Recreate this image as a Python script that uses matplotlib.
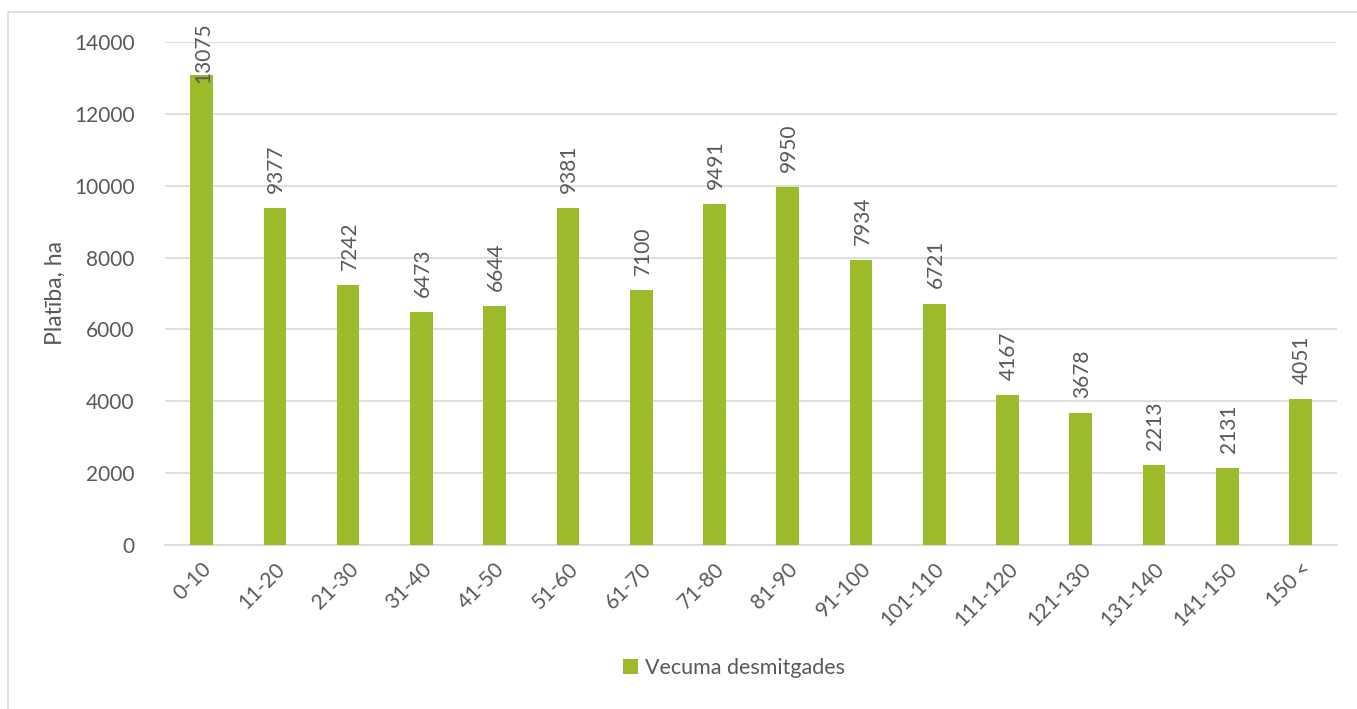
import matplotlib.pyplot as plt
from matplotlib.patches import Rectangle

age_groups = ['0-10', '11-20', '21-30', '31-40', '41-50', '51-60', '61-70', '71-80',
              '81-90', '91-100', '101-110', '111-120', '121-130', '131-140', '141-150', '150 <']
area_ha = [13075, 9377, 7242, 6473, 6644, 9381, 7100, 9491,
           9950, 7934, 6721, 4167, 3678, 2213, 2131, 4051]
series_name = 'Vecuma desmitgades'

bar_color = '#9BBB2A'
text_color = '#595959'
grid_color = '#D9D9D9'

plt.rcParams['font.family'] = ['Lato', 'DejaVu Sans']

fig = plt.figure(figsize=(13.57, 7.09), dpi=100)
ax = fig.add_axes([0.1216, 0.2313, 0.8637, 0.7095])

x = range(len(age_groups))
bars = ax.bar(x, area_ha, width=0.31, color=bar_color, label=series_name, zorder=3)

# labels sit above the bar, but the tallest one is pushed down to stay in the chart
for xi, v in zip(x, area_ha):
    ax.text(xi + 0.02, min(v + 420, 12850), str(v), rotation=90, ha='center', va='bottom',
            fontsize=15, color=text_color)

ax.set_xlim(-0.5, len(age_groups) - 0.5)
ax.set_ylim(0, 14000)
ax.set_yticks(range(0, 14001, 2000))
ax.set_xticks(list(x))
ax.set_xticklabels(age_groups, rotation=45, ha='right', rotation_mode='anchor')
ax.tick_params(axis='both', length=0, labelsize=15, labelcolor=text_color)
ax.tick_params(axis='x', pad=10)
ax.tick_params(axis='y', pad=22)
ax.grid(axis='y', color=grid_color, linewidth=1.2, zorder=0)
for side in ['top', 'right', 'left']:
    ax.spines[side].set_visible(False)
ax.spines['bottom'].set_color(grid_color)
ax.spines['bottom'].set_linewidth(1.2)
ax.set_ylabel('Platība, ha', fontsize=16.5, color=text_color, labelpad=6)

fig.legend(handles=[bars], labels=[series_name], loc='center', bbox_to_anchor=(0.541, 0.058),
           frameon=False, fontsize=15.5, labelcolor=text_color, handlelength=0.7,
           handleheight=0.7, handletextpad=0.3)

fig.patches.append(Rectangle((8 / 1357, -0.05), 1.1, 1 - 12 / 709 + 0.05,
                             transform=fig.transFigure, fill=False,
                             edgecolor=grid_color, linewidth=1.2))

fig.savefig('out.png', dpi=100)
